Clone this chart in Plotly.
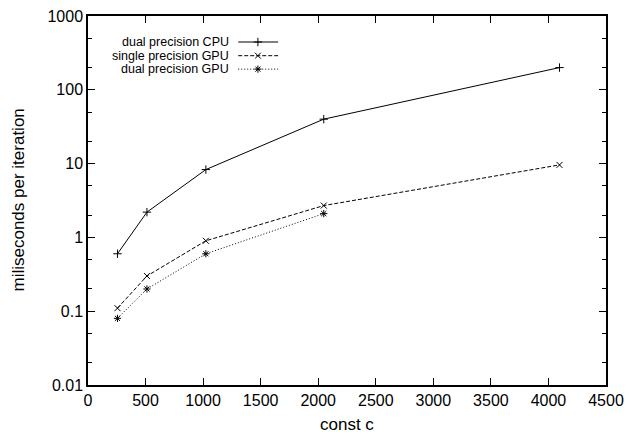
import plotly.graph_objects as go

# ---- data ----
const_c = [256, 512, 1024, 2048, 4096]
cpu_dual = [0.6, 2.2, 8.3, 40, 200]
gpu_single = [0.11, 0.3, 0.9, 2.7, 9.6]
const_c_gpu_dual = [256, 512, 1024, 2048]
gpu_dual = [0.08, 0.2, 0.6, 2.1]

series_names = ["dual precision CPU", "single precision GPU", "dual precision GPU"]
x_ticks = [0, 500, 1000, 1500, 2000, 2500, 3000, 3500, 4000, 4500]
y_ticks = [0.01, 0.1, 1, 10, 100, 1000]
y_tick_labels = ["0.01", "0.1", "1", "10", "100", "1000"]
y_minor = [m * 10.0 ** e for e in range(-2, 3) for m in (2, 5)]
x_title = "const c"
y_title = "miliseconds per iteration"

FONT = "Liberation Sans, Arial, Helvetica, sans-serif"
styles = [
    dict(dash="solid", symbol="cross-thin-open"),
    dict(dash="4px,2px", symbol="x-thin-open"),
    dict(dash="1px,2px", symbol="asterisk-open"),
]

fig = go.Figure()
xs = [const_c, const_c, const_c_gpu_dual]
ys = [cpu_dual, gpu_single, gpu_dual]
for name, x, y, st in zip(series_names, xs, ys, styles):
    fig.add_trace(go.Scatter(
        x=x, y=y, mode="lines+markers", name=name, showlegend=False,
        line=dict(color="black", width=1, dash=st["dash"]),
        marker=dict(symbol=st["symbol"], size=6, color="black",
                    line=dict(color="black", width=1)),
    ))

# custom legend (text right-aligned, sample to the right) on overlay axes
leg_y = [0.9295, 0.8924, 0.856]
for name, ly, st in zip(series_names, leg_y, styles):
    fig.add_trace(go.Scatter(
        x=[0.29, 0.367], y=[ly, ly], mode="lines", xaxis="x2", yaxis="y2",
        showlegend=False, hoverinfo="skip",
        line=dict(color="black", width=1, dash=st["dash"]),
    ))
    fig.add_trace(go.Scatter(
        x=[0.328], y=[ly], mode="markers", xaxis="x2", yaxis="y2",
        showlegend=False, hoverinfo="skip",
        marker=dict(symbol=st["symbol"], size=6, color="black",
                    line=dict(color="black", width=1)),
    ))
    fig.add_annotation(
        x=0.274, y=ly, xref="paper", yref="paper", text=name,
        showarrow=False, xanchor="right", yanchor="middle", borderpad=0,
        font=dict(family=FONT, size=12.5, color="black"),
    )

# axis titles
fig.add_annotation(x=0.5, y=0, xref="paper", yref="paper", text=x_title,
                   showarrow=False, xanchor="center", yanchor="middle",
                   yshift=-39, font=dict(family=FONT, size=17, color="black"))
fig.add_annotation(x=0, y=0.5, xref="paper", yref="paper", text=y_title,
                   showarrow=False, xanchor="center", yanchor="middle",
                   textangle=-90, xshift=-70,
                   font=dict(family=FONT, size=17, color="black"))

axis_common = dict(
    showgrid=False, zeroline=False, showline=True, linecolor="black",
    linewidth=1.5, mirror="ticks", ticks="inside", ticklen=7,
    tickcolor="black", tickwidth=1, automargin=False,
    ticklabeloverflow="allow",
    tickfont=dict(family=FONT, size=16, color="black"),
)

# the page body adds an 8px offset, so the figure is 8px smaller and margins shifted
fig.update_layout(
    width=625, height=428,
    margin=dict(l=80, r=27, t=8, b=51),
    paper_bgcolor="white", plot_bgcolor="white",
    font=dict(family=FONT, color="black"),
    showlegend=False,
    xaxis=dict(range=[0, 4500], tickmode="array", tickvals=x_ticks, **axis_common),
    yaxis=dict(
        type="log", range=[-2, 3], tickmode="array", tickvals=y_ticks,
        ticktext=y_tick_labels,
        minor=dict(tickmode="array", tickvals=y_minor, ticks="inside",
                   ticklen=4, tickcolor="black", tickwidth=1),
        **axis_common,
    ),
    xaxis2=dict(range=[0, 1], overlaying="x", visible=False, fixedrange=True),
    yaxis2=dict(range=[0, 1], overlaying="y", visible=False, fixedrange=True),
)

fig.write_html("out.html")
